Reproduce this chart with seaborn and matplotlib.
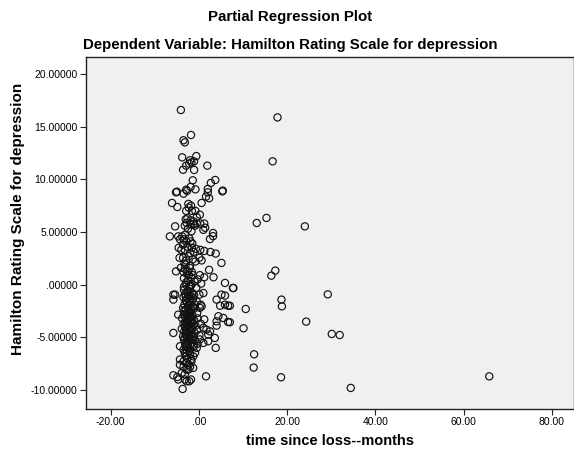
import matplotlib
matplotlib.use("Agg")
import matplotlib.pyplot as plt
import matplotlib.ticker as mticker
import seaborn as sns
import pandas as pd

# ---- data ----
outlier_x = [17.8, 16.7, 15.3, 13.1, 24.0, 17.3, 16.4, 7.7, 29.2, 18.7, 7.0, 10.6,
             18.8, 7.0, 24.3, 10.1, 30.1, 31.9, 12.5, 12.4, 18.6, 34.4, 65.8]
outlier_y = [15.87, 11.70, 6.33, 5.85, 5.53, 1.33, 0.85, -0.32, -0.92, -1.42, -2.0, -2.31,
             -2.06, -3.57, -3.51, -4.14, -4.68, -4.78, -6.61, -7.87, -8.79, -9.80, -8.70]

upper_x = [-4.1, -1.8, -3.5, -3.2, -3.8, -0.6, -2.0, -1.1, -2.2, -1.7, -2.9, -3.6, -1.1, 1.9,
           -1.4, 3.7, 2.7, 2.0, 5.4, -1.9, -2.9, -2.7, -0.8, -5.0, -3.5, 1.6, 2.3]
upper_y = [16.57, 14.2, 13.7, 13.5, 12.08, 12.2, 11.8, 11.7, 11.48, 11.6, 11.29, 10.9, 10.88, 11.29,
           9.9, 9.93, 9.65, 9.08, 8.92, 9.27, 9.01, 8.9, 9.04, 8.82, 8.63, 8.35, 8.2]

mid_x = [-5.2, 2.0, 5.3, -6.1, -4.9, -2.4, -2.3, -2.9, -1.6, -0.8, 0.6, -1.8,
         0.2, -2.6, -1.9, -1.2, -3.0, -0.5,
         -2.8, -1.9, -1.2, -0.5, 0.3, 1.2, -0.9, -3.2,
         -5.4, 1.4, 1.0, -1.7, -2.5,
         3.2, -6.6, -4.7, -3.8, -4.3, -3.5, -2.9, -1.9, -1.5, 2.5, 3.2, -2.2, -3.1,
         -4.6, -4.0, -3.2, -2.6, -1.6, -0.7, 0.3, 1.2, 2.6, 3.8, -3.6, -2.0, -1.2,
         -4.4, -3.6, -2.3, 0.1, 0.6, 5.1, -2.9, -1.4, -3.3, -0.8,
         -5.2, -4.1, -3.0, -2.1, 0.2, 1.2, 2.3, 3.3, -3.5, -1.6, -2.7,
         5.9, -3.4, -2.5, -1.8, -1.0, -0.3, -3.0, -2.2, 0.5]
mid_y = [8.76, 8.76, 8.85, 7.75, 7.37, 7.66, 7.3, 7.0, 7.0, 7.0, 7.75, 7.5,
         6.64, 6.3, 6.1, 6.0, 6.2, 6.4,
         5.85, 5.75, 5.75, 5.8, 5.8, 5.8, 5.6, 5.6,
         5.53, 5.4, 5.2, 5.06, 5.3,
         4.9, 4.58, 4.58, 4.58, 4.3, 4.3, 4.1, 4.1, 3.9, 4.33, 4.6, 4.4, 4.75,
         3.5, 3.3, 3.3, 3.6, 3.5, 3.4, 3.3, 3.2, 3.1, 2.95, 3.8, 3.0, 3.1,
         2.55, 2.55, 2.7, 2.55, 2.3, 2.06, 2.3, 2.4, 2.0, 2.2,
         1.26, 1.6, 1.9, 1.6, 0.9, 0.7, 1.4, 0.7, 1.2, 1.2, 1.0,
         0.16, 0.6, 0.4, 0.7, 0.3, 0.5, 0.0, -0.1, 0.1]

low_x = [7.8, -5.8, -5.4, 1.0, 0.1, 5.1, 5.9, -3.4, -2.8, -2.1, -1.5, -0.6, -3.1, -2.4,
         -5.8, 4.0, -3.5, -3.0, -2.6, -2.0, -1.3, -0.5, 0.4, -3.3, -2.4, -1.7, -0.9,
         4.8, 5.9, 6.6, 0.6, 0.2, -4.7, 4.4, -3.6, -3.0, -2.5, -1.9, -1.2, -0.4, -3.4, -2.7, -1.5, -2.2,
         5.5, 6.6, 4.0, 4.0, -3.8, -3.1, -2.5, -1.8, -1.1, -0.3, 0.4, -3.5, -2.8, -2.1, -1.5, -0.8, -3.2, -2.4, 1.2,
         -5.8, 1.0, 1.7, 2.5, 2.1, -3.9, -3.3, -2.7, -2.1, -1.6, -1.0, -0.4, 0.1, -3.0, -2.4, -1.8, -3.6, -1.3, -2.9,
         0.2, 2.1, 1.0, 3.6, 3.8, -4.3, -3.4, -2.8, -2.2, -1.6, -0.9, -0.3, -3.1, -2.0, -1.2, -2.5,
         -3.5, -2.8, -0.9, -0.5, -1.3, -2.2, -3.0,
         -4.3, -3.5, -4.3, -3.5, -1.7, -2.0, -1.3, -2.8,
         -2.8, -3.9, -2.4, 1.6, -5.8, -4.9, -3.2,
         -4.7, -3.2, -2.2, -2.8, -1.8, -3.7]
low_y = [-0.32, -0.95, -0.95, -0.8, -0.95, -0.95, -1.04, -0.5, -0.7, -0.4, -0.8, -0.3, -0.9, -0.95,
         -1.42, -1.42, -1.2, -1.5, -1.3, -1.7, -1.3, -1.6, -1.9, -1.9, -1.95, -1.1, -1.9,
         -2.0, -1.9, -2.0, -2.06, -2.2, -2.85, -3.0, -2.2, -2.4, -2.2, -2.6, -2.3, -2.7, -2.8, -2.9, -2.9, -2.5,
         -3.16, -3.54, -3.48, -3.89, -3.2, -3.1, -3.3, -3.1, -3.4, -3.2, -3.7, -3.7, -3.6, -3.8, -3.6, -3.9, -3.95, -3.05, -3.3,
         -4.58, -4.1, -4.27, -4.43, -4.74, -4.2, -4.4, -4.1, -4.5, -4.2, -4.6, -4.3, -4.8, -4.8, -4.9, -4.75, -4.9, -4.95, -4.3,
         -5.2, -5.37, -5.53, -5.06, -6.0, -5.85, -5.2, -5.4, -5.1, -5.5, -5.3, -5.6, -5.7, -5.8, -5.9, -5.55,
         -6.17, -6.48, -6.48, -6.0, -6.8, -6.3, -6.8,
         -7.1, -7.27, -7.6, -7.8, -7.27, -7.8, -7.9, -7.4,
         -8.06, -8.38, -8.06, -8.7, -8.6, -8.76, -8.5,
         -9.0, -9.0, -9.17, -9.17, -9.0, -9.9]

core_x = [-3.2, -2.6, -2.0, -1.4, -2.9, -2.3, -1.7, -3.4, -2.5, -1.9, -1.1,
          -3.0, -2.2, -1.6, -2.7, -1.3, -3.3, -2.4, -1.8, -2.9, -2.1, -1.5,
          -3.1, -2.6, -2.0, -1.4, -2.8, -2.2, -1.7, -3.3, -2.5, -1.9, -2.7,
          -2.3, -1.6, -3.0, -2.4, -1.2, -2.8, -2.0, -3.2, -2.6, -1.8, -2.3]
core_y = [1.5, 1.3, 1.8, 0.9, 0.2, 0.9, 0.0, -0.2, -0.6, -0.1, -1.0,
          -1.1, -1.1, -1.5, -1.7, -2.1, -2.4, -2.7, -2.3, -3.3, -3.0, -3.3,
          -3.6, -3.9, -3.5, -4.0, -4.5, -4.2, -4.4, -5.1, -4.7, -5.1, -5.0,
          -5.3, -5.2, -5.9, -6.0, -5.7, -6.2, -6.6, -6.5, -7.0, -7.1, -7.6]

x_ticks = [-20, 0, 20, 40, 60, 80]
y_ticks = [-10, -5, 0, 5, 10, 15, 20]

x_all = outlier_x + upper_x + mid_x + low_x + core_x
y_all = outlier_y + upper_y + mid_y + low_y + core_y
df = pd.DataFrame({"months": x_all, "hamilton": y_all})

# ---- figure ----
sns.set_style("ticks")
plt.rcParams["font.family"] = ["Liberation Sans", "DejaVu Sans"]
plt.rcParams["text.color"] = "black"
plt.rcParams["axes.labelcolor"] = "black"
plt.rcParams["xtick.color"] = "black"
plt.rcParams["ytick.color"] = "black"

fig = plt.figure(figsize=(5.74, 4.5), dpi=100)
ax = fig.add_axes([86 / 574, 1 - 409 / 450, (574 - 86) / 574, (409 - 57) / 450])
ax.set_facecolor("#F0F0F0")

sns.scatterplot(data=df, x="months", y="hamilton", ax=ax, marker="o", s=27,
                facecolor="none", edgecolor="#111111", linewidth=0.85)

ax.set_xlim(-25.6, 85.0)
ax.set_ylim(-11.8, 21.6)
ax.set_xticks(x_ticks)
ax.set_yticks(y_ticks)


def fmt(dec):
    def f(v, pos):
        s = f"{v:.{dec}f}"
        if s.startswith("0."):
            s = s[1:]
        elif s.startswith("-0.") and float(s) == 0:
            s = s[2:]
        return s
    return f


ax.xaxis.set_major_formatter(mticker.FuncFormatter(fmt(2)))
ax.yaxis.set_major_formatter(mticker.FuncFormatter(fmt(5)))
ax.tick_params(axis="both", direction="out", length=4, width=0.8, color="#222222",
               labelsize=7.5, pad=2)
ax.tick_params(axis="x", pad=1.5)
for sp in ax.spines.values():
    sp.set_visible(True)
    sp.set_color("#222222")
    sp.set_linewidth(1.0)

ax.set_xlabel("time since loss--months", fontsize=10.5, fontweight="bold", labelpad=5)
ax.set_ylabel("Hamilton Rating Scale for depression", fontsize=11, fontweight="bold")
ax.yaxis.set_label_coords(-0.126, 0.54)

fig.text(0.505, 1 - 17 / 450, "Partial Regression Plot", ha="center", va="center",
         fontsize=10.8, fontweight="bold")
fig.text(0.505, 1 - 45 / 450, "Dependent Variable: Hamilton Rating Scale for depression",
         ha="center", va="center", fontsize=10.8, fontweight="bold")

fig.savefig("out.png", dpi=100)
